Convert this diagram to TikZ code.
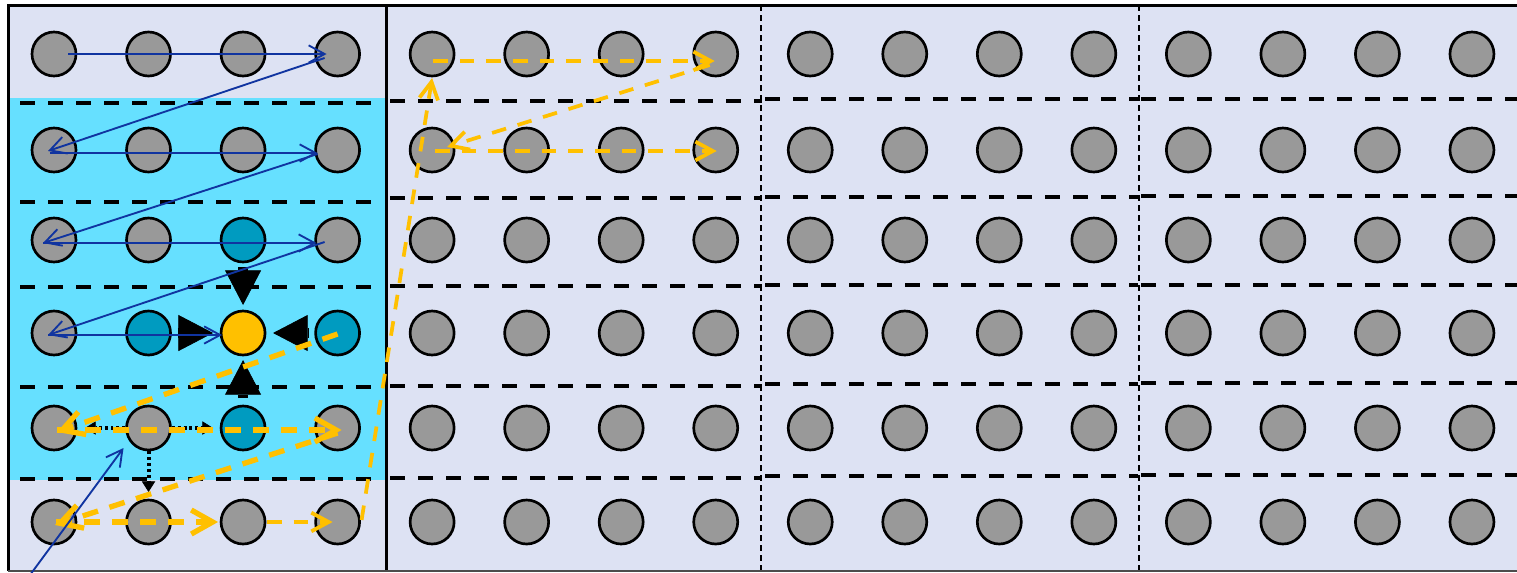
\documentclass[tikz,border=0pt]{standalone}
\usepackage{tikz}
\usepackage{xcolor}
\usetikzlibrary{arrows.meta,calc}

\definecolor{bgcol}{RGB}{221,226,243}
\definecolor{cyancol}{RGB}{102,224,255}
\definecolor{dotgray}{RGB}{153,153,153}
\definecolor{nbrcol}{RGB}{0,155,192}
\definecolor{ctrcol}{RGB}{255,192,0}
\definecolor{scancol}{RGB}{16,52,160}

\tikzset{
  dot/.style={circle,draw=black,line width=2pt,fill=dotgray,minimum size=33pt,inner sep=0pt},
  nbr/.style={fill=nbrcol},
  ctr/.style={fill=ctrcol},
  cell 3-3/.style={nbr},
  cell 4-2/.style={nbr},
  cell 4-4/.style={nbr},
  cell 5-3/.style={nbr},
  cell 4-3/.style={ctr},
  rowsep/.style={line width=3pt,dash pattern=on 11pt off 10pt},
  blocksep/.style={line width=1.5pt,dash pattern=on 4.5pt off 3pt},
  scan/.style={draw=scancol,line width=1.4pt,-{Straight Barb[length=12pt,width=13pt]}},
  walk/.style={draw=ctrcol,line width=4pt,dash pattern=on 12pt off 9pt,-{Straight Barb[length=16pt,width=18pt]}},
  walkthin/.style={draw=ctrcol,line width=2.8pt,dash pattern=on 11pt off 9pt,-{Straight Barb[length=13pt,width=14pt]}},
  push/.style={line width=7pt,-{Triangle[length=26pt,width=27pt,line width=0.5pt]}},
  probe/.style={line width=3pt,dash pattern=on 2.2pt off 2.2pt,-{Triangle[length=8pt,width=10pt,line width=0.5pt]}}
}

\begin{document}
\begin{tikzpicture}[x=0.75pt,y=-0.75pt]
\useasboundingbox (0,0) rectangle (1517,572);
\clip (0,0) rectangle (1517,572);
\fill[bgcol] (8,5) rectangle (1530,571);
\fill[cyancol] (8,98) rectangle (386,480);
\foreach \y in {103,202,287,387,479} \draw[rowsep] (20,\y) -- (372,\y);
\foreach \y in {101,198,286,386,478} \draw[rowsep] (390,\y) -- (762,\y);
\foreach \y in {99,197,285,384,476} \draw[rowsep] (765,\y) -- (1138,\y);
\foreach \y in {99,196,285,383,475} \draw[rowsep] (1141,\y) -- (1517,\y);
\draw[blocksep] (761,5) -- (761,572);
\draw[blocksep] (1139,5) -- (1139,572);
\draw[line width=2.25pt] (386,5) -- (386,572);
\draw[line width=2.25pt] (1530,5) -- (8,5) -- (8,571);
\draw[line width=1.5pt,black!70] (8,571) -- (1530,571);

\foreach \r/\y in {1/54,2/150,3/240,4/333,5/428,6/522}
  \foreach \c in {1,...,16}
    \node[dot,cell \r-\c/.try] (d\r-\c) at ({54+94.53*(\c-1)},\y) {};

\draw[push,shorten <=3pt,shorten >=3.5pt] (d3-3) -- (d4-3);
\draw[push,shorten <=4.5pt,shorten >=5pt] (d4-2) -- (d4-3);
\draw[push,shorten <=4.5pt,shorten >=5pt] (d4-4) -- (d4-3);
\draw[push,shorten <=5pt,shorten >=2.8pt] (d5-3) -- (d4-3);

\draw[probe,shorten >=5.8pt] (d5-2) -- (d5-1);
\draw[probe,shorten >=5pt] (d5-2) -- (d5-3);
\draw[probe,shorten >=5pt] (d5-2) -- (d6-2);

\draw[walk] ($(d4-4)+(0,1)$) -- ($(d5-1)+(3,4)$);
\draw[walk] ($(d5-1)+(3,2)$) -- ($(d5-4)+(4,2)$);
\draw[walk] ($(d5-4)+(0,5)$) -- ($(d6-1)+(1,3)$);
\draw[walk] ($(d6-1)+(2,0)$) -- ($(d6-3)+(-25,0)$);
\draw[walkthin] ($(d6-3)+(24,0)$) -- ($(d6-4)+(-5,0)$);
\draw[walkthin] ($(d6-4)+(24,-2)$) -- ($(d1-5)+(0,24)$);
\draw[walkthin] ($(d1-5)+(1,7)$) -- ($(d1-8)+(-1,7)$);
\draw[walkthin] ($(d1-8)+(-6,11)$) -- ($(d2-5)+(15,-3)$);
\draw[walkthin] ($(d2-5)+(3,1)$) -- ($(d2-8)+(1,1)$);

\draw[scan] ($(d1-1)+(14,0)$) -- ($(d1-4)+(-11,0)$);
\draw[scan] ($(d1-4)+(-13,4)$) -- ($(d2-1)+(-6,1)$);
\draw[scan] ($(d2-1)+(-4,3)$) -- ($(d2-4)+(-20,3)$);
\draw[scan] ($(d2-4)+(-20,4)$) -- ($(d3-1)+(-11,3)$);
\draw[scan] ($(d3-1)+(-11,3)$) -- ($(d3-4)+(-21,3)$);
\draw[scan] ($(d3-4)+(-13,2)$) -- ($(d4-1)+(-6,2)$);
\draw[scan] ($(d4-1)+(-6,2)$) -- ($(d4-3)+(-21,2)$);
\coordinate (entry) at (30,575);
\draw[scan] (entry) -- ($(d5-2)+(-25,20)$);
\end{tikzpicture}
\end{document}
